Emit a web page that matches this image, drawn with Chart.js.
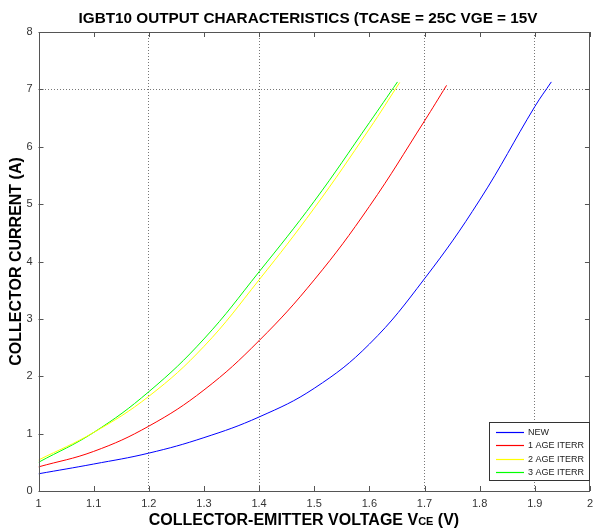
<!DOCTYPE html>
<html>
<head>
<meta charset="utf-8">
<script src="https://cdn.jsdelivr.net/npm/chart.js@4/dist/chart.umd.min.js"></script>
<style>
  html, body { margin: 0; padding: 0; background: #fff; }
  #wrap { position: relative; width: 599px; height: 532px; }
</style>
</head>
<body>
<div id="wrap"><canvas id="chart" width="599" height="532"></canvas></div>
<script>
// IGBT10 output characteristics - collector current vs Vce
const seriesNames = ['NEW', '1 AGE ITERR', '2 AGE ITERR', '3 AGE ITERR'];
const seriesColors = ['#0000ff', '#ff0000', '#ffff00', '#00ff00'];

const vceNew = [1.0, 1.1, 1.2, 1.3, 1.4, 1.5, 1.6, 1.7, 1.8, 1.9, 1.93];
const icNew = [0.30, 0.47, 0.66, 0.93, 1.29, 1.79, 2.56, 3.70, 5.07, 6.70, 7.13];

const vceAge1 = [1.0, 1.1, 1.2, 1.3, 1.4, 1.5, 1.6, 1.7, 1.74];
const icAge1 = [0.42, 0.69, 1.13, 1.76, 2.62, 3.68, 4.96, 6.45, 7.07];

const vceAge2 = [1.0, 1.1, 1.2, 1.3, 1.4, 1.5, 1.6, 1.655];
const icAge2 = [0.54, 1.02, 1.65, 2.52, 3.68, 4.93, 6.31, 7.12];

const vceAge3 = [1.0, 1.1, 1.2, 1.3, 1.4, 1.5, 1.6, 1.651];
const icAge3 = [0.50, 1.02, 1.73, 2.65, 3.82, 5.05, 6.42, 7.13];

// dotted grid lines only at these values
const xGridAt = [1.2, 1.4, 1.7, 1.9];
const yGridAt = [7];

const titleText = 'IGBT10 OUTPUT CHARACTERISTICS (TCASE = 25C VGE = 15V';
const yTitle = 'COLLECTOR CURRENT (A)';

function pts(xs, ys) {
  return xs.map((x, i) => ({ x: x, y: ys[i] }));
}

function near(list, v) {
  return list.some(g => Math.abs(g - v) < 1e-6);
}

const allSeries = [pts(vceNew, icNew), pts(vceAge1, icAge1), pts(vceAge2, icAge2), pts(vceAge3, icAge3)];

const frameAndText = {
  id: 'frameAndText',
  afterDraw(chart) {
    const ctx = chart.ctx;
    const a = chart.chartArea;
    const xs = chart.scales.x;
    const ys = chart.scales.y;
    ctx.save();

    // frame
    ctx.strokeStyle = '#555';
    ctx.lineWidth = 1;
    ctx.strokeRect(Math.round(a.left) + 0.5, Math.round(a.top) + 0.5,
      Math.round(a.right - a.left) - 1, Math.round(a.bottom - a.top));

    // inward tick marks
    ctx.beginPath();
    xs.ticks.forEach(t => {
      const px = Math.round(xs.getPixelForValue(t.value)) + 0.5;
      ctx.moveTo(px, a.bottom); ctx.lineTo(px, a.bottom - 5);
      ctx.moveTo(px, a.top); ctx.lineTo(px, a.top + 5);
    });
    ys.ticks.forEach(t => {
      const py = Math.round(ys.getPixelForValue(t.value)) + 0.5;
      ctx.moveTo(a.left, py); ctx.lineTo(a.left + 5, py);
      ctx.moveTo(a.right, py); ctx.lineTo(a.right - 5, py);
    });
    ctx.stroke();

    // title
    ctx.fillStyle = '#000';
    ctx.font = 'bold 15.3px "Liberation Sans", Arial, sans-serif';
    ctx.textAlign = 'center';
    ctx.textBaseline = 'alphabetic';
    ctx.fillText(titleText, 308, 23);

    // x axis title with small "CE"
    const big = 'bold 16px "Liberation Sans", Arial, sans-serif';
    const small = 'bold 11px "Liberation Sans", Arial, sans-serif';
    const parts = [['COLLECTOR-EMITTER VOLTAGE V', big], ['CE', small], [' (V)', big]];
    let w = 0;
    parts.forEach(p => { ctx.font = p[1]; w += ctx.measureText(p[0]).width; });
    let x0 = 304 - w / 2;
    ctx.textAlign = 'left';
    parts.forEach(p => {
      ctx.font = p[1];
      ctx.fillText(p[0], x0, 525);
      x0 += ctx.measureText(p[0]).width;
    });

    // y axis title
    ctx.save();
    ctx.translate(20.5, (a.top + a.bottom) / 2);
    ctx.rotate(-Math.PI / 2);
    ctx.font = 'bold 16px "Liberation Sans", Arial, sans-serif';
    ctx.textAlign = 'center';
    ctx.fillText(yTitle, 0, 0);
    ctx.restore();

    // legend box
    const lx = 489, ly = 422, lw = 100, lh = 58;
    ctx.fillStyle = '#fff';
    ctx.fillRect(lx, ly, lw, lh);
    ctx.strokeStyle = '#333';
    ctx.strokeRect(lx + 0.5, ly + 0.5, lw, lh);
    ctx.font = '9px "Liberation Sans", Arial, sans-serif';
    ctx.textBaseline = 'middle';
    ctx.textAlign = 'left';
    chart.data.datasets.forEach((ds, i) => {
      const ry = Math.round(ly + 10 + i * 13.3) + 0.5;
      ctx.strokeStyle = seriesColors[i];
      ctx.lineWidth = 1.2;
      ctx.beginPath();
      ctx.moveTo(lx + 7, ry);
      ctx.lineTo(lx + 35, ry);
      ctx.stroke();
      ctx.fillStyle = '#222';
      ctx.fillText(ds.label, lx + 39, ry + 0.5);
    });

    ctx.restore();
  }
};

new Chart(document.getElementById('chart'), {
  type: 'line',
  data: {
    datasets: allSeries.map((d, i) => ({
      label: seriesNames[i],
      data: d,
      borderColor: seriesColors[i],
      backgroundColor: seriesColors[i],
      borderWidth: 1,
      pointRadius: 0,
      tension: 0.4,
      fill: false
    }))
  },
  options: {
    responsive: false,
    animation: false,
    layout: { padding: { top: 32, right: 1, left: 0, bottom: 0 } },
    plugins: {
      legend: { display: false },
      tooltip: { enabled: false }
    },
    scales: {
      x: {
        type: 'linear',
        min: 1,
        max: 2,
        afterFit(scale) { scale.height = 41; },
        ticks: {
          stepSize: 0.1,
          padding: 6,
          color: '#333',
          font: { family: '"Liberation Sans", Arial', size: 11 },
          maxRotation: 0,
          callback: v => String(Number(v.toFixed(1)))
        },
        grid: {
          drawTicks: false,
          lineWidth: 1,
          color: c => (c.tick && near(xGridAt, c.tick.value)) ? '#777' : 'rgba(0,0,0,0)'
        },
        border: { display: false, dash: [1, 2] }
      },
      y: {
        type: 'linear',
        min: 0,
        max: 8,
        afterFit(scale) { scale.width = 38.5; },
        ticks: {
          stepSize: 1,
          padding: 6,
          color: '#333',
          font: { family: '"Liberation Sans", Arial', size: 11 }
        },
        grid: {
          drawTicks: false,
          lineWidth: 1,
          color: c => (c.tick && near(yGridAt, c.tick.value)) ? '#777' : 'rgba(0,0,0,0)'
        },
        border: { display: false, dash: [1, 2] }
      }
    }
  },
  plugins: [frameAndText]
});
</script>
</body>
</html>
